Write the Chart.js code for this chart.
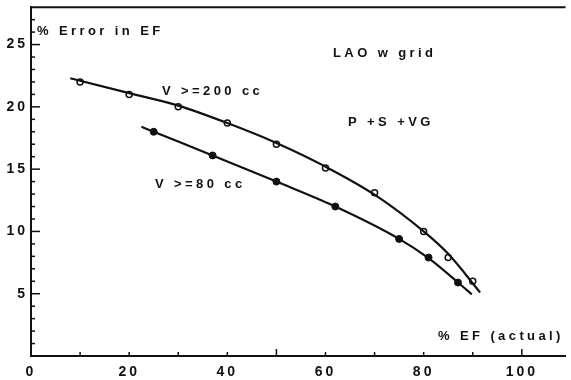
<!DOCTYPE html>
<html>
<head>
<meta charset="utf-8">
<script src="https://cdn.jsdelivr.net/npm/chart.js@4.4.1/dist/chart.umd.min.js"></script>
<style>
  html, body { margin: 0; padding: 0; background: #fff; }
  #wrap { width: 571px; height: 380px; }
</style>
</head>
<body>
<div id="wrap"><canvas id="efChart" width="571" height="380"></canvas></div>
<script>
// measured points (open circles = V >= 200 cc, filled = V >= 80 cc)
const ef200 = [10, 20, 30, 40, 50, 60, 70, 80, 85, 90];
const err200 = [22, 21, 20, 18.7, 17, 15.1, 13.1, 10, 7.9, 6];
const ef80 = [25, 37, 50, 62, 75, 81, 87];
const err80 = [18, 16.1, 14, 12, 9.4, 7.9, 5.9];

// hand-drawn fit curves
const fit200X = [8, 20, 30, 40, 50, 60, 70, 80, 85, 91.5];
const fit200Y = [22.3, 21.1, 20.1, 18.7, 17.1, 15.2, 12.95, 10.0, 8.2, 5.1];
const fit80X = [22.5, 25, 37, 50, 62, 75, 81, 87, 89.8];
const fit80Y = [18.4, 18.0, 16.1, 14.0, 12.0, 9.4, 7.85, 5.9, 4.95];

const xTickLabels = [0, 20, 40, 60, 80, 100];
const yTickLabels = [5, 10, 15, 20, 25];

const fontFamily = '"Liberation Sans", Arial, sans-serif';
const notes = [
  { text: '% Error in EF', x: 37, y: 31 },
  { text: 'LAO w grid', x: 333, y: 53 },
  { text: 'V >=200 cc', x: 162, y: 91 },
  { text: 'P +S +VG', x: 348, y: 122 },
  { text: 'V >=80 cc', x: 155, y: 184 },
  { text: '% EF (actual)', x: 438, y: 336 }
];

function toPoints(xs, ys) {
  return xs.map((x, i) => ({ x: x, y: ys[i] }));
}

const spacingPlugin = {
  id: 'spacing',
  beforeLayout(chart) { chart.ctx.letterSpacing = '3px'; },
  beforeDraw(chart) { chart.ctx.letterSpacing = '3px'; }
};

const framePlugin = {
  id: 'frame',
  afterDraw(chart) {
    const ctx = chart.ctx;
    const area = chart.chartArea;
    const xs = chart.scales.x;
    const ys = chart.scales.y;
    ctx.save();
    ctx.strokeStyle = '#111';
    ctx.lineWidth = 2;
    // top border
    ctx.beginPath();
    ctx.moveTo(area.left, area.top);
    ctx.lineTo(area.right, area.top);
    ctx.stroke();
    // inward ticks
    ctx.lineWidth = 1.5;
    for (let v = 10; v <= 100; v += 10) {
      const px = xs.getPixelForValue(v);
      const len = v % 50 === 0 ? 7 : 4;
      ctx.beginPath();
      ctx.moveTo(px, area.bottom);
      ctx.lineTo(px, area.bottom - len);
      ctx.stroke();
    }
    for (let v = 1; v <= 27; v++) {
      const py = ys.getPixelForValue(v);
      const len = v % 5 === 0 ? 9 : 4;
      ctx.beginPath();
      ctx.moveTo(area.left, py);
      ctx.lineTo(area.left + len, py);
      ctx.stroke();
    }
    // annotations
    ctx.fillStyle = '#111';
    ctx.font = 'bold 13px ' + fontFamily;
    ctx.letterSpacing = '3.4px';
    ctx.textBaseline = 'middle';
    ctx.textAlign = 'left';
    notes.forEach(n => ctx.fillText(n.text, n.x, n.y));
    ctx.restore();
  }
};

new Chart(document.getElementById('efChart'), {
  type: 'scatter',
  data: {
    datasets: [
      {
        label: 'fit 200',
        data: toPoints(fit200X, fit200Y),
        showLine: true,
        borderColor: '#111',
        borderWidth: 2.2,
        pointRadius: 0,
        cubicInterpolationMode: 'monotone'
      },
      {
        label: 'fit 80',
        data: toPoints(fit80X, fit80Y),
        showLine: true,
        borderColor: '#111',
        borderWidth: 2.2,
        pointRadius: 0,
        cubicInterpolationMode: 'monotone'
      },
      {
        label: 'V >=200 cc',
        data: toPoints(ef200, err200),
        pointRadius: 3,
        pointBackgroundColor: '#fff',
        pointBorderColor: '#111',
        pointBorderWidth: 1.5
      },
      {
        label: 'V >=80 cc',
        data: toPoints(ef80, err80),
        pointRadius: 3.5,
        pointBackgroundColor: '#111',
        pointBorderColor: '#111',
        pointBorderWidth: 1
      }
    ]
  },
  options: {
    responsive: false,
    devicePixelRatio: 1,
    animation: false,
    layout: { padding: { top: 7, right: 0, left: 0, bottom: 0 } },
    plugins: {
      legend: { display: false },
      tooltip: { enabled: false }
    },
    scales: {
      x: {
        type: 'linear',
        min: 0,
        max: 108.9,
        afterFit(scale) { scale.height = 24; },
        border: { display: true, color: '#111', width: 2 },
        grid: { drawOnChartArea: false, drawTicks: false },
        ticks: {
          stepSize: 20,
          includeBounds: false,
          padding: 8,
          autoSkip: false,
          color: '#111',
          font: { family: fontFamily, size: 14, weight: 'bold' },
          maxRotation: 0,
          callback: v => xTickLabels.includes(v) ? String(v) : ''
        }
      },
      y: {
        type: 'linear',
        min: 0,
        max: 28,
        afterFit(scale) { scale.width = 31; },
        border: { display: true, color: '#111', width: 2 },
        grid: { drawOnChartArea: false, drawTicks: false },
        ticks: {
          stepSize: 5,
          includeBounds: false,
          padding: 3,
          autoSkip: false,
          color: '#111',
          font: { family: fontFamily, size: 14, weight: 'bold', lineHeight: 0.6 },
          callback: v => yTickLabels.includes(v) ? String(v) : ''
        }
      }
    }
  },
  plugins: [spacingPlugin, framePlugin]
});
</script>
</body>
</html>
